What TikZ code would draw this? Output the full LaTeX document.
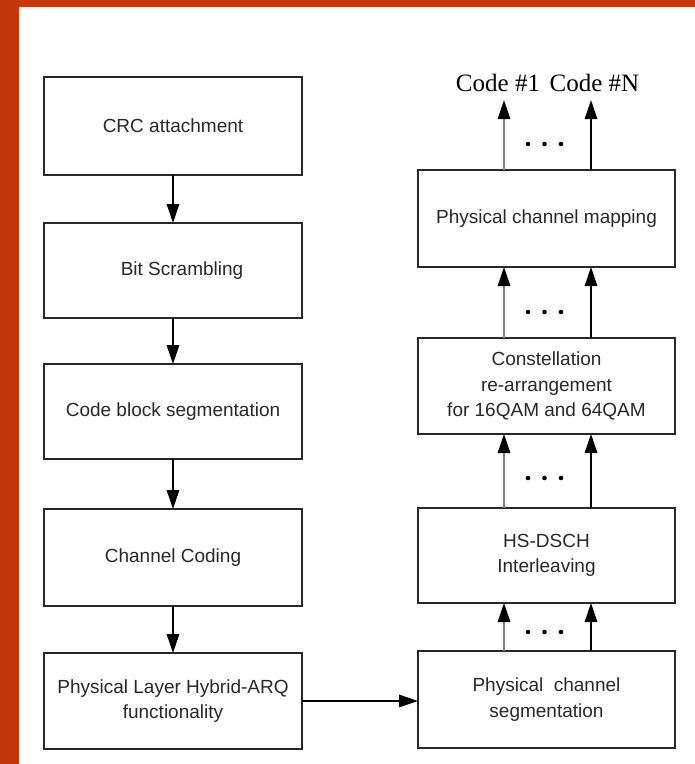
\documentclass[tikz,border=0pt]{standalone}
\usepackage{fontspec}
\setmainfont{Liberation Sans}
\newfontfamily\codefont{Liberation Serif}
\usetikzlibrary{arrows.meta}
\definecolor{frameorange}{RGB}{196,56,12}
\definecolor{boxline}{RGB}{40,40,40}
\definecolor{txt}{RGB}{40,40,40}
\begin{document}
\begin{tikzpicture}[x=1pt,y=-1pt,
  blockbox/.style={draw=boxline,line width=1.7pt,fill=white,minimum width=#1,
    inner sep=0pt,outer sep=0pt,align=center,text=txt,
    font=\fontsize{19}{25.5}\selectfont},
  lbox/.style={blockbox=258pt},
  rbox/.style={blockbox=257pt},
  arr/.style={line width=1.5pt,draw=black,-{Triangle[length=19pt,width=12.5pt,color=black]}},
  grayarr/.style={arr,draw=black!50},
  codelbl/.style={font=\codefont\fontsize{25}{25}\selectfont,inner sep=0pt,anchor=base},
  dot/.style={fill=black,draw=none,circle,minimum size=4.6pt,inner sep=0pt}]
% background and frame
\fill[white] (0,0) rectangle (695,764);
\fill[frameorange] (0,0) rectangle (695,7);
\fill[frameorange] (0,0) rectangle (19,764);
\useasboundingbox (0,0) rectangle (695,764);

% left column
\node[lbox,minimum height=98pt] (crc) at (173,126) {CRC attachment};
\node[lbox,minimum height=95pt] (bit) at (173,270.5) {\hspace*{18pt}Bit Scrambling};
\node[lbox,minimum height=95pt] (cbs) at (173,411.5) {Code block segmentation};
\node[lbox,minimum height=97pt] (cc) at (173,557.5) {Channel Coding};
\node[lbox,minimum height=96pt] (harq) at (173,701) {Physical Layer Hybrid-ARQ\\functionality};

\draw[arr] (crc) -- (bit);
\draw[arr] (bit) -- (cbs);
\draw[arr] (cbs) -- (cc);
\draw[arr] (cc) -- (harq);

% right column
\node[rbox,minimum height=97pt] (pcm) at (546.5,218.5) {Physical channel mapping};
\node[rbox,minimum height=96pt] (cra) at (546.5,386) {Constellation\\re-arrangement\\for 16QAM and 64QAM};
\node[rbox,minimum height=95pt] (hsi) at (546.5,555.5) {HS-DSCH\\Interleaving};
\node[rbox,minimum height=97pt] (pcs) at (546.5,699.5) {Physical\ \ channel\\segmentation};

\draw[arr] (harq.east) -- (harq.east -| pcs.west);

\coordinate (xl) at (504,0);
\coordinate (xr) at (591,0);
\coordinate (t1) at (504,100);
\coordinate (tN) at (591,100);

\draw[grayarr] (pcs.north -| xl) -- (hsi.south -| xl);
\draw[arr]     (pcs.north -| xr) -- (hsi.south -| xr);
\draw[grayarr] (hsi.north -| xl) -- (cra.south -| xl);
\draw[arr]     (hsi.north -| xr) -- (cra.south -| xr);
\draw[grayarr] (cra.north -| xl) -- (pcm.south -| xl);
\draw[arr]     (cra.north -| xr) -- (pcm.south -| xr);
\draw[grayarr] (pcm.north -| xl) -- (t1);
\draw[arr]     (pcm.north -| xr) -- (tN);

\node[codelbl] (c1) at (498,91) {Code \#1};
\node[codelbl] (cN) at (594.5,91) {Code \#N};

% ellipses
\foreach \y in {144,312,478,632}{
  \node[dot] at (528,\y) {};
  \node[dot] at (544.5,\y) {};
  \node[dot] at (561,\y) {};
}
\end{tikzpicture}
\end{document}
